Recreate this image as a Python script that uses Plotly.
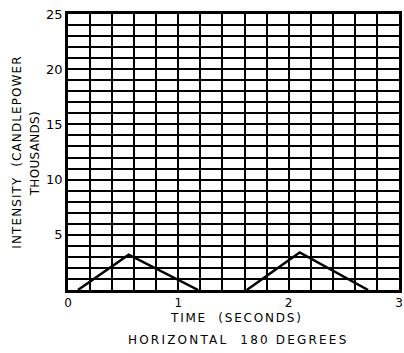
import plotly.graph_objects as go

# Data
time_s = [0.09, 0.55, 1.18, None, 1.62, 2.10, 2.72]
intensity_k = [0.0, 3.2, 0.0, None, 0.0, 3.4, 0.0]

x_tick_vals = [0, 1, 2, 3]
x_tick_text = ["0", "1", "2", "3"]
y_tick_vals = [5, 10, 15, 20, 25]
y_tick_text = ["5", "10", "15", "20", "25"]

FONT = "DejaVu Sans"


def spaced(text, px):
    return f'<span style="letter-spacing:{px}px">{text}</span>'


fig = go.Figure()
fig.add_trace(go.Scatter(
    x=time_s, y=intensity_k, mode="lines",
    line=dict(color="black", width=2.5),
    connectgaps=False, showlegend=False, hoverinfo="skip",
))

fig.update_xaxes(
    range=[0, 3], tickvals=x_tick_vals, ticktext=x_tick_text,
    showgrid=True, gridcolor="black", gridwidth=2.2,
    minor=dict(dtick=0.2, showgrid=True, gridcolor="black", gridwidth=1.6),
    showline=True, linecolor="black", linewidth=2.5, mirror=True,
    zeroline=False, ticks="", ticklen=0,
    tickfont=dict(family=FONT, size=12, color="black"),
)
fig.update_yaxes(
    range=[0, 25], tickvals=y_tick_vals, ticktext=y_tick_text,
    showgrid=True, gridcolor="black", gridwidth=2.2,
    minor=dict(dtick=1, showgrid=True, gridcolor="black", gridwidth=1.6),
    showline=True, linecolor="black", linewidth=2.5, mirror=True,
    zeroline=False, ticks="", ticklen=0,
    tickfont=dict(family=FONT, size=13, color="black"),
)

fig.add_annotation(
    text=spaced("INTENSITY  (CANDLEPOWER", 1.1), textangle=-90,
    xref="paper", yref="paper", x=-0.155, y=0.50, xanchor="center", yanchor="middle",
    showarrow=False, font=dict(family=FONT, size=12, color="black"),
)
fig.add_annotation(
    text=spaced("THOUSANDS)", 0.3), textangle=-90,
    xref="paper", yref="paper", x=-0.1, y=0.495, xanchor="center", yanchor="middle",
    showarrow=False, font=dict(family=FONT, size=12, color="black"),
)
fig.add_annotation(
    text=spaced("TIME  (SECONDS)", 1.8), xref="paper", yref="paper", x=0.51, y=-0.1,
    xanchor="center", yanchor="middle", showarrow=False,
    font=dict(family=FONT, size=12, color="black"),
)
fig.add_annotation(
    text=spaced("HORIZONTAL  180 DEGREES", 2.2), xref="paper", yref="paper", x=0.515, y=-0.18,
    xanchor="center", yanchor="middle", showarrow=False,
    font=dict(family=FONT, size=12, color="black"),
)

fig.update_layout(
    width=404, height=353,
    margin=dict(l=68, r=2, t=14, b=63),
    paper_bgcolor="white", plot_bgcolor="white",
)

fig.write_html("out.html")
